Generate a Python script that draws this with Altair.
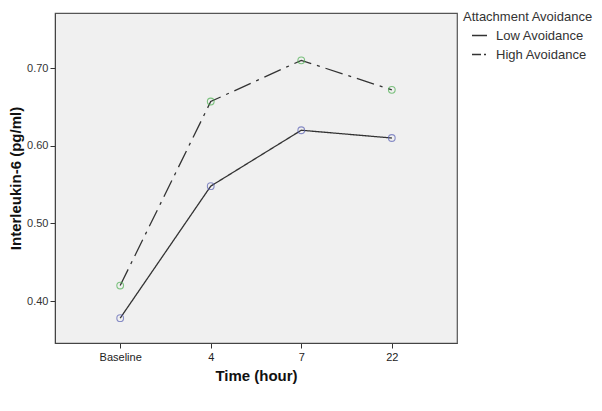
import altair as alt
import pandas as pd

times = ["Baseline", "4", "7", "22"]
groups = ["Low Avoidance", "High Avoidance"]
marker_colors = ["#5b62b4", "#4caf50"]
low_vals = [0.378, 0.548, 0.620, 0.610]
high_vals = [0.420, 0.657, 0.710, 0.672]

rows = []
for t, v in zip(times, low_vals):
    rows.append({"time": t, "group": groups[0], "legend_group": groups[0],
                 "mcolor": marker_colors[0], "il6": v})
for t, v in zip(times, high_vals):
    rows.append({"time": t, "group": groups[1], "legend_group": groups[1],
                 "mcolor": marker_colors[1], "il6": v})
df = pd.DataFrame(rows)

FONT = "Liberation Sans"

x = alt.X("time:N", sort=times, title="Time (hour)",
          scale=alt.Scale(type="point", padding=0.72),
          axis=alt.Axis(labelAngle=0, labelFontSize=11, labelColor="#222",
                        titleFontSize=15, titleFontWeight="bold", titleColor="#111",
                        tickColor="#333", tickSize=5, domainColor="#444",
                        labelPadding=3, titlePadding=6, grid=False))
y = alt.Y("il6:Q", title="Interleukin-6 (pg/ml)",
          scale=alt.Scale(domain=[0.346, 0.771], nice=False, zero=False),
          axis=alt.Axis(values=[0.4, 0.5, 0.6, 0.7], format=".2f",
                        labelFontSize=11, labelColor="#333",
                        titleFontSize=15, titleFontWeight="bold", titleColor="#111",
                        tickColor="#333", tickSize=5, domainColor="#444",
                        labelPadding=2, titlePadding=3, grid=False))

# visible lines, long dash-dot pattern, no legend
lines = alt.Chart(df).mark_line(color="#333333", strokeWidth=1.3).encode(
    x=x, y=y,
    strokeDash=alt.StrokeDash("group:N", sort=groups,
        scale=alt.Scale(domain=groups, range=[[1, 0], [18, 6, 3, 6]]),
        legend=None)
)

# invisible copy that only carries the legend, with a compact dash-dot pattern
legend_lines = alt.Chart(df).mark_line(color="#333333", strokeWidth=1.3, opacity=0).encode(
    x=x, y=y,
    strokeDash=alt.StrokeDash("legend_group:N", sort=groups,
        scale=alt.Scale(domain=groups, range=[[1, 0], [9, 3, 2, 3]]),
        legend=alt.Legend(title="Attachment Avoidance", orient="none",
                          legendX=408, legendY=-2, symbolType="stroke",
                          symbolStrokeColor="#333333", symbolStrokeWidth=1.5,
                          symbolOpacity=1,
                          symbolSize=225, symbolOffset=8,
                          titleFontSize=13, titleFontWeight="normal", titleColor="#333",
                          labelFontSize=13, labelColor="#333", rowPadding=3,
                          labelOffset=8, titlePadding=3, labelLimit=300, titleLimit=300))
)

points = alt.Chart(df).mark_point(shape="circle", filled=False, size=45,
                                  strokeWidth=1.1).encode(
    x=x, y=y,
    color=alt.Color("mcolor:N", scale=None, legend=None)
)

chart = alt.layer(lines, legend_lines, points).resolve_scale(
    strokeDash="independent"
).properties(
    width=402, height=330,
    autosize=alt.AutoSizeParams(type="none"),
    padding={"left": 47, "top": 5, "right": 137, "bottom": 60},
).configure(font=FONT).configure_view(
    fill="#f0f0f0", stroke="#555555", strokeWidth=1.2
)

chart.save("out.html", embed_options={"renderer": "svg", "actions": False})
